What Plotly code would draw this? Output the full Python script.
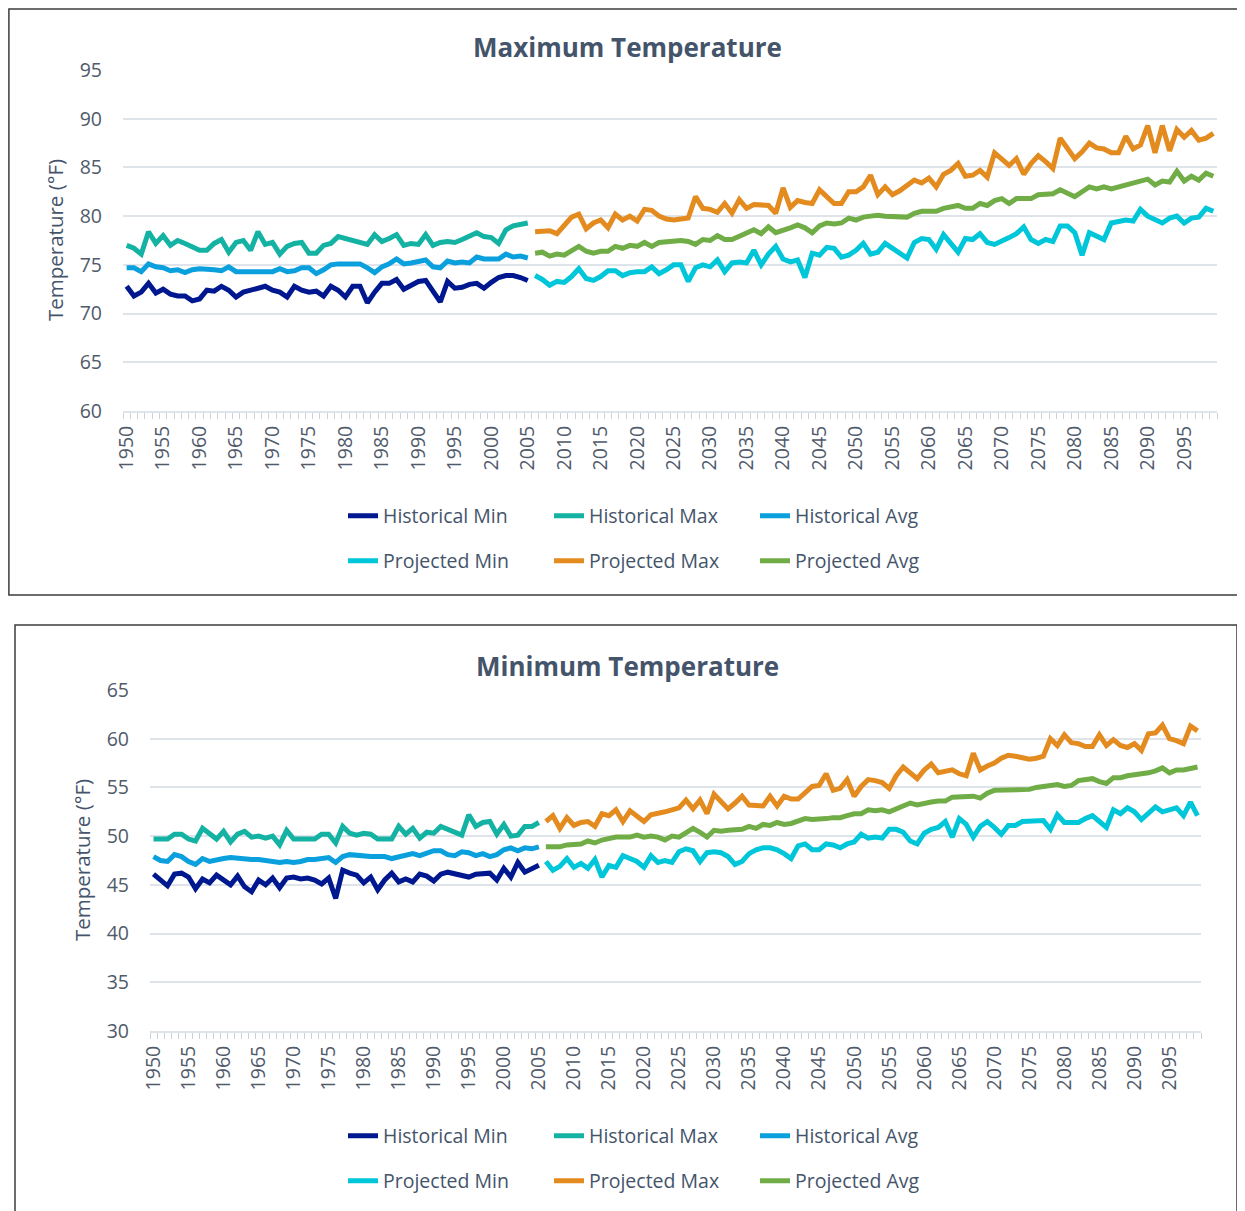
import plotly.graph_objects as go

# ---------------- data ----------------
hist_years = list(range(1950, 2006))
proj_years = list(range(2006, 2100))
tick_years = list(range(1950, 2100, 5))
tick_labels = [str(y) for y in tick_years]

# Maximum Temperature chart
max_hist_min = [72.8, 71.8, 72.2, 73.1, 72.1, 72.5, 72.0, 71.8, 71.8, 71.3,
                71.5, 72.4, 72.3, 72.8, 72.4, 71.7, 72.2, 72.4, 72.6, 72.8,
                72.4, 72.2, 71.7, 72.8, 72.4, 72.2, 72.3, 71.8, 72.8, 72.4,
                71.7, 72.8, 72.8, 71.1, 72.2, 73.1, 73.1, 73.5, 72.5, 72.9,
                73.3, 73.4, 72.3, 71.2, 73.3, 72.6, 72.7, 73.0, 73.1, 72.6,
                73.2, 73.7, 73.9, 73.9, 73.7, 73.4]
max_hist_max = [77.0, 76.7, 76.1, 78.4, 77.2, 78.0, 77.0, 77.5, 77.2, 76.8,
                76.5, 76.5, 77.2, 77.6, 76.3, 77.3, 77.5, 76.5, 78.4, 77.1,
                77.3, 76.1, 76.9, 77.2, 77.3, 76.2, 76.2, 77.0, 77.2, 77.9,
                77.7, 77.5, 77.3, 77.1, 78.1, 77.4, 77.7, 78.1, 77.0, 77.2,
                77.1, 78.1, 77.0, 77.3, 77.4, 77.3, 77.6, 78.0, 78.3, 77.9,
                77.8, 77.2, 78.6, 79.0, 79.1, 79.3]
max_hist_avg = [74.7, 74.7, 74.3, 75.1, 74.8, 74.7, 74.4, 74.5, 74.2, 74.5,
                74.6, 74.6, 74.5, 74.4, 74.8, 74.3, 74.3, 74.3, 74.4, 74.4,
                74.3, 74.6, 74.3, 74.4, 74.7, 74.7, 74.1, 74.5, 75.0, 75.1,
                75.1, 75.1, 75.1, 74.7, 74.2, 74.8, 75.1, 75.6, 75.1, 75.2,
                75.3, 75.5, 74.8, 74.7, 75.4, 75.2, 75.3, 75.2, 75.8, 75.6,
                75.6, 75.6, 76.1, 75.8, 75.9, 75.7]
max_proj_min = [73.9, 73.5, 72.9, 73.3, 73.2, 73.8, 74.6, 73.6, 73.4, 73.8,
                74.4, 74.4, 73.9, 74.2, 74.3, 74.3, 74.8, 74.1, 74.5, 75.0,
                75.0, 73.3, 74.7, 75.0, 74.8, 75.5, 74.3, 75.2, 75.3, 75.2,
                76.5, 75.0, 76.1, 76.9, 75.6, 75.3, 75.5, 73.7, 76.2, 76.0,
                76.8, 76.7, 75.8, 76.0, 76.5, 77.2, 76.1, 76.3, 77.2, 76.7,
                76.3, 75.7, 77.3, 77.7, 77.6, 76.6, 78.1, 77.2, 76.3, 77.7,
                77.6, 78.2, 77.3, 77.1, 77.4, 77.8, 78.2, 78.9, 77.6, 77.2,
                77.6, 77.4, 79.0, 79.0, 78.3, 76.0, 78.3, 78.0, 77.6, 79.3,
                79.5, 79.6, 79.5, 80.7, 80.0, 79.7, 79.3, 79.8, 80.0, 79.3,
                79.8, 79.9, 80.8, 80.5]
max_proj_max = [78.4, 78.4, 78.5, 78.2, 79.0, 79.9, 80.2, 78.7, 79.3, 79.6,
                78.8, 80.2, 79.6, 80.0, 79.5, 80.7, 80.6, 80.0, 79.7, 79.6,
                79.7, 79.8, 82.0, 80.8, 80.7, 80.4, 81.3, 80.3, 81.7, 80.8,
                81.2, 81.1, 81.1, 80.3, 82.9, 80.9, 81.6, 81.4, 81.3, 82.7,
                82.0, 81.3, 81.3, 82.5, 82.5, 83.0, 84.2, 82.2, 83.0, 82.2,
                82.6, 83.2, 83.7, 83.4, 83.9, 83.0, 84.3, 84.7, 85.4, 84.1,
                84.2, 84.7, 84.0, 86.5, 85.9, 85.2, 85.9, 84.3, 85.4, 86.2,
                85.6, 84.9, 88.0, 86.9, 85.9, 86.6, 87.5, 87.0, 86.9, 86.5,
                86.5, 88.2, 86.9, 87.3, 89.3, 86.5, 89.3, 86.7, 88.9, 88.1,
                88.8, 87.8, 88.0, 88.5]
max_proj_avg = [76.2, 76.3, 75.9, 76.1, 76.0, 76.5, 76.9, 76.4, 76.2, 76.4,
                76.4, 76.9, 76.7, 77.0, 76.9, 77.3, 76.9, 77.3, 77.4, 77.5,
                77.5, 77.4, 77.1, 77.6, 77.5, 78.0, 77.6, 77.6, 77.9, 78.2,
                78.6, 78.2, 78.9, 78.3, 78.5, 78.8, 79.1, 78.8, 78.3, 79.0,
                79.3, 79.2, 79.3, 79.8, 79.6, 79.9, 80.0, 80.1, 80.0, 80.0,
                80.0, 79.9, 80.3, 80.5, 80.5, 80.5, 80.8, 80.9, 81.1, 80.8,
                80.8, 81.3, 81.1, 81.6, 81.8, 81.3, 81.8, 81.8, 81.8, 82.2,
                82.2, 82.3, 82.7, 82.4, 82.0, 82.5, 83.0, 82.8, 83.0, 82.8,
                83.0, 83.2, 83.4, 83.7, 83.8, 83.2, 83.6, 83.5, 84.6, 83.6,
                84.1, 83.7, 84.4, 84.1]

# Minimum Temperature chart
min_hist_min = [46.1, 45.5, 44.9, 46.1, 46.2, 45.8, 44.6, 45.6, 45.2, 46.0,
                45.5, 45.0, 45.9, 44.8, 44.3, 45.5, 45.0, 45.7, 44.7, 45.7,
                45.8, 45.6, 45.7, 45.5, 45.1, 45.7, 43.6, 46.5, 46.2, 46.0,
                45.2, 45.8, 44.5, 45.5, 46.2, 45.3, 45.6, 45.3, 46.1, 45.9,
                45.4, 46.1, 46.3, 46.1, 45.9, 45.8, 46.1, 46.1, 46.2, 45.5,
                46.7, 45.8, 47.3, 46.3, 46.6, 47.0]
min_hist_max = [49.7, 49.7, 49.7, 50.2, 50.2, 49.7, 49.5, 50.8, 50.2, 49.7,
                50.5, 49.4, 50.2, 50.5, 49.9, 50.0, 49.8, 50.0, 49.1, 50.6,
                49.7, 49.7, 49.7, 49.7, 50.2, 50.2, 49.3, 51.0, 50.3, 50.1,
                50.3, 50.2, 49.7, 49.7, 49.7, 51.0, 50.2, 50.8, 49.8, 50.4,
                50.3, 51.0, 50.7, 50.3, 50.1, 52.2, 51.0, 51.4, 51.5, 50.2,
                51.2, 50.0, 50.1, 51.0, 51.0, 51.4]
min_hist_avg = [47.9, 47.5, 47.4, 48.1, 47.9, 47.4, 47.1, 47.7, 47.4, 47.6,
                47.7, 47.8, 47.7, 47.7, 47.6, 47.6, 47.5, 47.4, 47.3, 47.4,
                47.3, 47.4, 47.6, 47.6, 47.7, 47.8, 47.3, 47.9, 48.1, 48.0,
                47.9, 47.9, 47.9, 47.9, 47.7, 47.9, 48.1, 48.2, 48.0, 48.3,
                48.5, 48.5, 48.1, 48.0, 48.4, 48.3, 48.0, 48.2, 47.9, 48.1,
                48.6, 48.8, 48.5, 48.8, 48.7, 48.9]
min_proj_min = [47.4, 46.5, 46.9, 47.7, 46.8, 47.2, 46.7, 47.6, 45.8, 47.0,
                46.8, 48.0, 47.7, 47.4, 46.8, 48.0, 47.3, 47.5, 47.3, 48.4,
                48.7, 48.5, 47.4, 48.3, 48.4, 48.3, 47.9, 47.1, 47.4, 48.2,
                48.6, 48.8, 48.8, 48.6, 48.2, 47.7, 49.0, 49.2, 48.6, 48.6,
                49.2, 49.1, 48.8, 49.2, 49.4, 50.2, 49.8, 49.9, 49.8, 50.7,
                50.7, 50.4, 49.5, 49.2, 50.3, 50.7, 50.9, 51.5, 49.9, 51.8,
                51.2, 49.9, 51.0, 51.5, 50.9, 50.2, 51.1, 51.1, 51.5, 51.5,
                51.6, 51.6, 50.7, 52.2, 51.4, 51.4, 51.4, 51.8, 52.1, 51.5,
                50.9, 52.7, 52.3, 52.9, 52.5, 51.7, 52.4, 53.0, 52.5, 52.7,
                52.9, 52.1, 53.5, 52.1]
min_proj_max = [51.5, 52.1, 50.8, 51.9, 51.1, 51.4, 51.5, 51.0, 52.3, 52.1,
                52.7, 51.5, 52.6, 52.0, 51.5, 52.2, 52.3, 52.5, 52.7, 52.9,
                53.7, 52.8, 53.7, 52.3, 54.3, 53.5, 52.8, 53.4, 54.1, 53.2,
                53.2, 53.1, 54.1, 53.1, 54.1, 53.8, 53.8, 54.4, 55.1, 55.2,
                56.4, 54.7, 54.9, 55.8, 54.1, 55.1, 55.8, 55.7, 55.5, 54.9,
                56.2, 57.1, 56.5, 55.9, 56.8, 57.4, 56.5, 56.6, 56.8, 56.4,
                56.2, 58.5, 56.8, 57.2, 57.5, 58.0, 58.3, 58.2, 58.0, 57.9,
                58.0, 58.2, 60.0, 59.3, 60.4, 59.6, 59.5, 59.2, 59.2, 60.4,
                59.3, 59.9, 59.3, 59.1, 59.5, 58.8, 60.5, 60.6, 61.4, 60.0,
                59.8, 59.5, 61.3, 60.8]
min_proj_avg = [48.9, 48.9, 48.9, 49.1, 49.1, 49.2, 49.5, 49.3, 49.6, 49.8,
                49.9, 49.9, 49.9, 50.1, 49.9, 50.0, 49.9, 49.6, 50.0, 49.9,
                50.3, 50.8, 50.4, 49.9, 50.6, 50.5, 50.6, 50.7, 50.7, 51.0,
                50.8, 51.2, 51.1, 51.4, 51.2, 51.3, 51.5, 51.8, 51.7, 51.7,
                51.8, 51.9, 51.9, 52.1, 52.3, 52.3, 52.7, 52.6, 52.7, 52.5,
                52.8, 53.2, 53.4, 53.2, 53.4, 53.5, 53.6, 53.6, 54.0, 54.0,
                54.1, 54.1, 53.9, 54.4, 54.7, 54.7, 54.7, 54.7, 54.7, 54.8,
                55.0, 55.1, 55.3, 55.3, 55.1, 55.2, 55.7, 55.8, 55.9, 55.6,
                55.4, 56.0, 56.0, 56.2, 56.3, 56.3, 56.5, 56.7, 57.0, 56.5,
                56.8, 56.8, 57.0, 57.1]

series_names = ["Historical Min", "Historical Max", "Historical Avg",
                "Projected Min", "Projected Max", "Projected Avg"]
colors = ["#00188F", "#14B2A3", "#0A9FDD", "#00C6DA", "#E38B1F", "#70AD47"]

# ---------------- layout helpers ----------------
W, H = 1245, 1211
OFF = 8  # page body margin offset of the figure on screen
def fx(px):
    return (px - OFF) / W
def fy(py):
    return 1 - (py - OFF) / H

TXT = "#44546A"
TICK = "#505A6B"
GRID = "#DFE3EA"
FONT = "Open Sans"

fig = go.Figure()

charts = [
    dict(xa="x", ya="y", legs=("legend", "legend2"),
         data=[max_hist_min, max_hist_max, max_hist_avg,
               max_proj_min, max_proj_max, max_proj_avg]),
    dict(xa="x2", ya="y2", legs=("legend3", "legend4"),
         data=[min_hist_min, min_hist_max, min_hist_avg,
               min_proj_min, min_proj_max, min_proj_avg]),
]

for ch in charts:
    for i, (name, col, vals) in enumerate(zip(series_names, colors, ch["data"])):
        xs = hist_years if i < 3 else proj_years
        fig.add_trace(go.Scatter(
            x=xs, y=vals, name=name, mode="lines",
            line=dict(color=col, width=5),
            xaxis=ch["xa"], yaxis=ch["ya"],
            legend=ch["legs"][0] if i < 3 else ch["legs"][1],
            hoverinfo="x+y+name",
        ))

def xaxis_cfg(x0, x1, anchor):
    return dict(
        domain=[fx(x0), fx(x1)], anchor=anchor, automargin=False,
        range=[1949.5, 2099.5], tickmode="array",
        tickvals=tick_years, ticktext=tick_labels, tickangle=-90,
        ticks="", showgrid=False, zeroline=False,
        showline=True, linecolor=GRID, linewidth=2,
        tickfont=dict(family=FONT, size=19.5, color=TICK),
        ticklabelstandoff=5,
        minor=dict(ticks="outside", ticklen=6, tickwidth=1, tickcolor="#CDD2DA",
                   tick0=1949.5, dtick=1, showgrid=False),
        fixedrange=True,
    )

def yaxis_cfg(y0, y1, anchor, rng):
    return dict(
        domain=[fy(y1), fy(y0)], anchor=anchor, automargin=False,
        range=rng, dtick=5, tick0=rng[0],
        showgrid=True, gridcolor=GRID, gridwidth=2,
        zeroline=False, showline=False, ticks="",
        tickfont=dict(family=FONT, size=19.5, color=TICK),
        ticklabelstandoff=20, fixedrange=True,
    )

fig.update_layout(
    width=W, height=H,
    margin=dict(l=0, r=0, t=0, b=0, autoexpand=False),
    paper_bgcolor="white", plot_bgcolor="white",
    font=dict(family=FONT, color=TXT),
    xaxis=xaxis_cfg(123, 1217, "y"),
    yaxis=yaxis_cfg(70, 411, "x", [60, 95]),
    xaxis2=xaxis_cfg(150, 1201, "y2"),
    yaxis2=yaxis_cfg(690, 1031, "x2", [30, 65]),
)

def legend_cfg(text_x, yc):
    return dict(
        orientation="h", x=fx(text_x - 40), xanchor="left",
        y=fy(yc), yanchor="middle",
        font=dict(family=FONT, size=19.5, color=TXT),
        entrywidth=161, entrywidthmode="pixels",
        bgcolor="rgba(0,0,0,0)", borderwidth=0,
        itemclick=False, itemdoubleclick=False,
    )

fig.update_layout(
    legend=legend_cfg(383, 516),
    legend2=legend_cfg(383, 561),
    legend3=legend_cfg(383, 1136),
    legend4=legend_cfg(383, 1181),
)

for (txt, yc) in [("<b>Maximum Temperature</b>", 47), ("<b>Minimum Temperature</b>", 666)]:
    fig.add_annotation(xref="paper", yref="paper", x=fx(627), y=fy(yc),
                       text=txt, showarrow=False,
                       xanchor="center", yanchor="middle",
                       font=dict(family=FONT, size=26, color=TXT))
for (xc, yc) in [(55, 240), (82, 860)]:
    fig.add_annotation(xref="paper", yref="paper", x=fx(xc), y=fy(yc),
                       text="Temperature (°F)", showarrow=False, textangle=-90,
                       xanchor="center", yanchor="middle",
                       font=dict(family=FONT, size=20.5, color=TXT))

# chart frames
fig.add_shape(type="rect", xref="paper", yref="paper",
              x0=0.9 / W, x1=fx(1244), y0=fy(595), y1=1 - 0.9 / H,
              line=dict(color="#3C3C3C", width=1.5), layer="below")
fig.add_shape(type="rect", xref="paper", yref="paper",
              x0=fx(15), x1=fx(1237), y0=fy(1240), y1=fy(625),
              line=dict(color="#3C3C3C", width=1.5), layer="below")

fig.write_html("out.html")
